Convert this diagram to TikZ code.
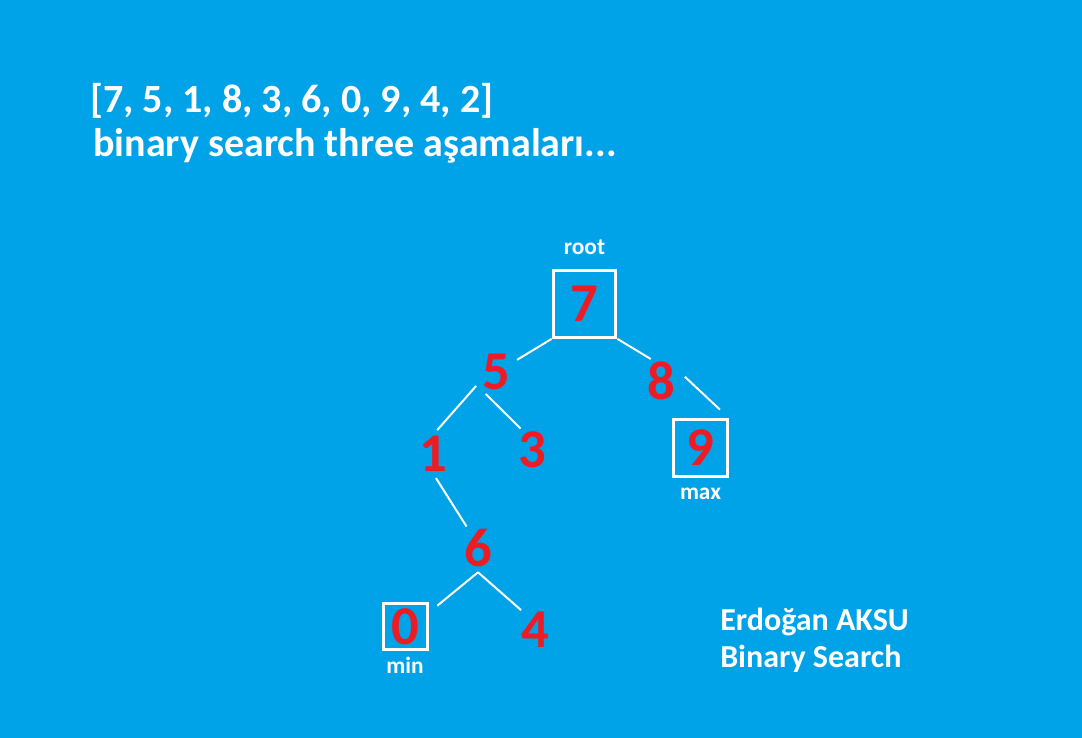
\documentclass[tikz,border=0pt]{standalone}
\usepackage{fontspec}
\setmainfont{Carlito}
\usetikzlibrary{positioning}
\definecolor{color_sky}{HTML}{00A2E8}
\definecolor{color_digit}{HTML}{ED1C24}
\tikzset{
  tree_digit/.style={circle, minimum size=36pt, inner sep=0pt, font=\fontsize{41}{41}\selectfont\bfseries, text=color_digit},
  tree_box/.style={draw=white, line width=2.25pt, inner sep=0pt, font=\fontsize{41}{41}\selectfont\bfseries, text=color_digit},
  tree_edge/.style={draw=white, line width=1.5pt},
  tree_caption/.style={inner sep=0pt, font=\fontsize{17.5}{17.5}\selectfont\bfseries, text=white},
  title_text/.style={anchor=base west, inner sep=0pt, font=\fontsize{30}{30}\selectfont\bfseries, text=white},
  sign_text/.style={anchor=base west, inner sep=0pt, font=\fontsize{24}{24}\selectfont\bfseries, text=white},
}
\begin{document}
\begin{tikzpicture}[x=0.75pt, y=-0.75pt]
    \fill[color_sky] (0, 0) rectangle (1082, 738);
    \useasboundingbox (0, 0) rectangle (1082, 738);

    % heading
    \node[title_text] (list)  at (90, 113)  {[7, 5, 1, 8, 3, 6, 0, 9, 4, 2]};
    \node[title_text] (steps) at (93, 157)  {binary search three aşamaları...};

    % tree
    \node[tree_box, minimum width=47pt, minimum height=50pt] (root) at (584.5, 304) {7};
    \node[tree_digit] (n5) at (496, 372) {5};
    \node[tree_digit] (n8) at (661, 381) {8};
    \node[tree_digit] (n1) at (433, 454) {1};
    \node[tree_digit] (n3) at (532, 450) {3};
    \node[tree_box, minimum width=40pt, minimum height=43pt] (n9) at (700.5, 448) {9};
    \node[tree_digit] (n6) at (478, 548) {6};
    \node[tree_box, minimum width=33pt, minimum height=35pt] (n0) at (405, 626.5) {0};
    \node[tree_digit] (n4) at (535, 630) {4};

    \node[tree_caption, above=11pt of root] (root_label) {root};
    \node[tree_caption, below=7pt of n9] (max_label) {max};
    \node[tree_caption, below=4pt of n0] (min_label) {min};

    \draw[tree_edge] (root.south west) -- (n5.30);
    \draw[tree_edge] (root.south east) -- (n8.115);
    \draw[tree_edge] (n5.215) -- (n1.80);
    \draw[tree_edge] (n5.245) -- (n3.118);
    \draw[tree_edge, shorten >=9pt] (n8.10) -- (n9.north east);
    \draw[tree_edge] (n1.277) -- (n6.118);
    \draw[tree_edge, shorten >=8.5pt] (n6.south) -- (n0.30);
    \draw[tree_edge] (n6.south) -- (n4.125);

    % signature
    \node[sign_text] (author) at (720, 630) {Erdoğan AKSU};
    \node[sign_text] (topic)  at (720, 667) {Binary Search};
\end{tikzpicture}
\end{document}
